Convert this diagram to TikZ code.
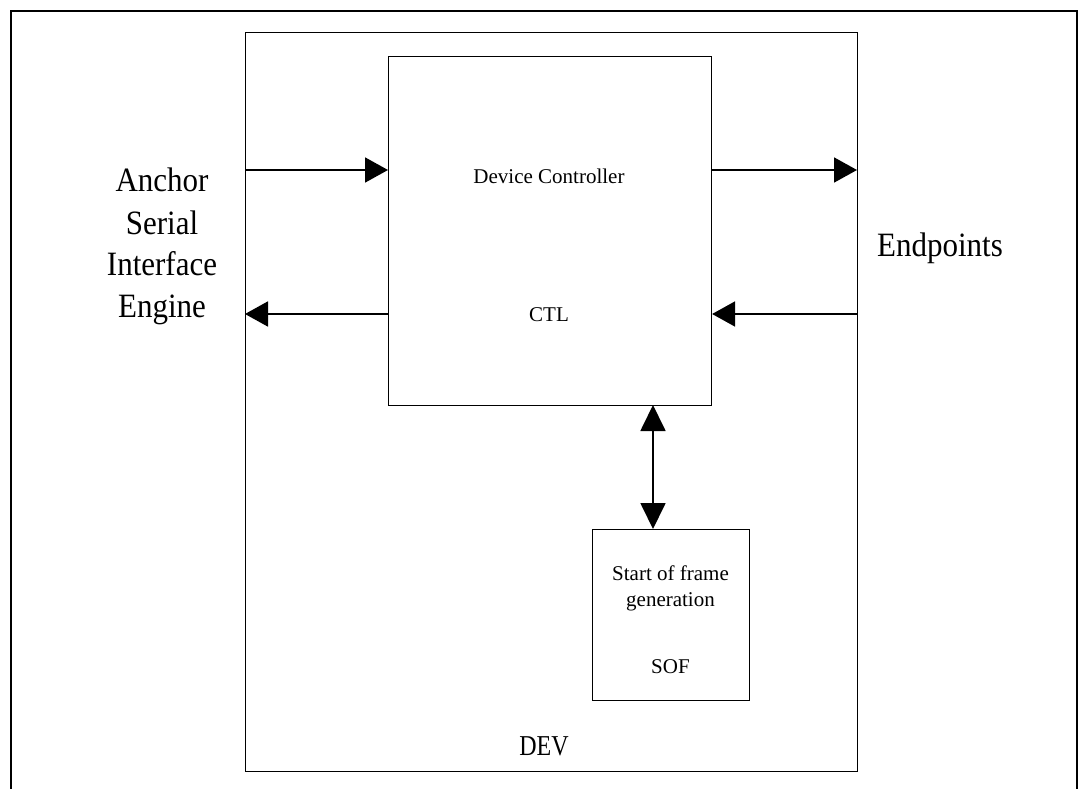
\documentclass[tikz,border=0pt]{standalone}
\usepackage{fontspec}
\usepackage{graphicx}
\setmainfont{Liberation Serif}
\usetikzlibrary{arrows.meta}
\newcommand{\tallA}[1]{\scalebox{1}[1.1]{#1}}
\newcommand{\tallB}[1]{\scalebox{1}[1.2]{#1}}
\begin{document}
\begin{tikzpicture}[x=1pt,y=-1pt,
 box/.style={draw,line width=1.1pt,inner sep=0pt,anchor=north west},
 sig/.style={line width=1.8pt,-{Triangle[length=23pt,width=25pt]}},
 bisig/.style={line width=1.8pt,{Triangle[length=26pt,width=25pt]}-{Triangle[length=26pt,width=25pt]}},
 lbl/.style={font=\fontsize{21}{25}\selectfont,anchor=base,inner sep=0pt},
 big/.style={font=\fontsize{31}{42}\selectfont,anchor=base,inner sep=0pt}]
\useasboundingbox (0,0) rectangle (1080,789);
\draw[line width=2.2pt] (11,789) -- (11,11) -- (1077,11) -- (1077,789);
\node[box,minimum width=612pt,minimum height=739pt] (dev) at (245,32) {};
\node[box,minimum width=323pt,minimum height=349pt] (ctlbox) at (388,56) {};
\node[box,minimum width=157pt,minimum height=171pt] (sof) at (592,529) {};
\node[lbl] (dc) at (549,184) {Device Controller};
\node[lbl] (ctl) at (549,321) {CTL};
\node[lbl,font=\fontsize{24}{28}\selectfont] (devl) at (544,755) {\tallB{DEV}};
\node[lbl] (s1) at (670.5,580) {Start of frame};
\node[lbl] (s2) at (670.5,606) {generation};
\node[lbl] (s3) at (670.5,673) {SOF};
\node[big] (a1) at (162,192) {\tallA{Anchor}};
\node[big] (a2) at (162,234) {\tallA{Serial}};
\node[big] (a3) at (162,275) {\tallA{Interface}};
\node[big] (a4) at (162,317) {\tallA{Engine}};
\node[big] (ep) at (940,257) {\tallA{Endpoints}};
\coordinate (li) at (245,170);
\coordinate (lo) at (245,314);
\coordinate (ro) at (857,170);
\coordinate (ri) at (857,314);
\coordinate (va) at (653,405);
\coordinate (vb) at (653,529);
\draw[sig] (li) -- (ctlbox.west |- li);
\draw[sig] (ctlbox.west |- lo) -- (lo);
\draw[sig] (ctlbox.east |- ro) -- (ro);
\draw[sig] (ri) -- (ctlbox.east |- ri);
\draw[bisig] (va) -- (vb);
\end{tikzpicture}
\end{document}
